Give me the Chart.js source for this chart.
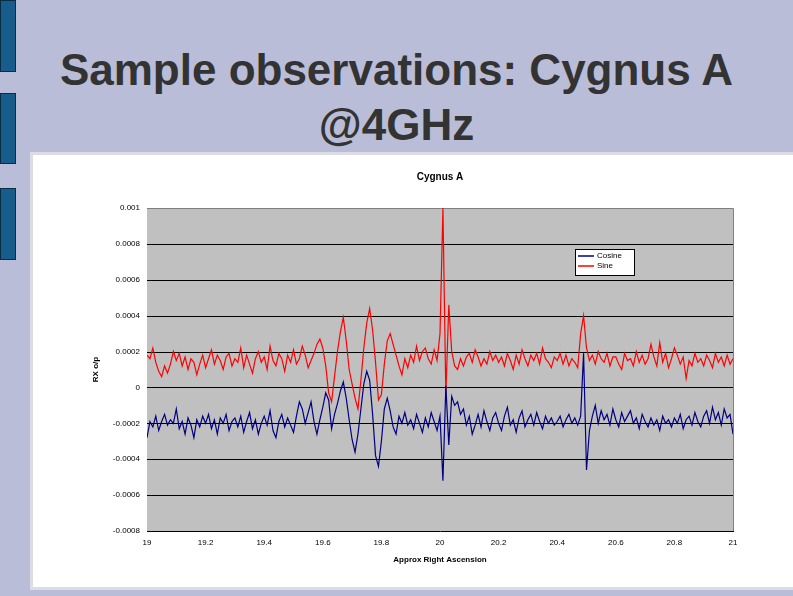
<!DOCTYPE html>
<html><head><meta charset="utf-8">
<script src="https://cdn.jsdelivr.net/npm/chart.js@4"></script>
<style>
body{margin:0;width:793px;height:596px;background:#b9bdd8;position:relative;overflow:hidden;font-family:"Liberation Sans",Arial,sans-serif}
.bar{position:absolute;left:0;width:14px;background:#165d8c;border:1px solid #0a2d45}
#title{position:absolute;left:0;width:793px;top:42px;text-align:center;font-size:44px;font-weight:bold;color:#333;line-height:55px}
#box{position:absolute;left:30px;top:152px;width:760px;height:432px;background:#fff;border:3px solid #dcdce4}
</style></head><body>
<div class="bar" style="top:0;height:70px"></div>
<div class="bar" style="top:93px;height:69px"></div>
<div class="bar" style="top:188px;height:70px"></div>
<div id="title">Sample observations: Cygnus A<br>@4GHz</div>
<div id="box"><canvas id="c" width="760" height="432"></canvas></div>
<script>
const seriesNames=["Cosine","Sine"];
const xStart=19, xStep=0.01;
const yTickLabels=["-0.0008","-0.0006","-0.0004","-0.0002","0","0.0002","0.0004","0.0006","0.0008","0.001"];
const xTickLabels=["19","19.2","19.4","19.6","19.8","20","20.2","20.4","20.6","20.8","21"];
// values in units of 1e-4
const sine=[
1.8,1.6,2.2,1.4,0.9,0.6,1.2,0.8,1.3,2.0,
1.5,1.9,1.2,1.7,1.0,1.6,1.4,0.7,1.3,1.8,
1.1,1.6,2.1,1.3,1.8,1.5,1.0,1.7,1.9,1.2,
1.6,1.4,2.2,1.1,1.8,1.3,0.8,1.6,2.0,1.4,
1.7,1.0,2.3,1.5,1.2,1.9,1.6,0.9,1.8,1.4,
2.1,1.3,1.6,2.3,1.8,1.1,1.5,1.9,2.4,2.7,
2.2,1.2,-0.3,-0.8,0.6,2.0,3.1,3.9,2.6,1.0,
0.2,-0.6,-1.2,0.4,2.2,3.6,4.4,3.2,1.4,-0.7,
-0.4,1.3,2.6,3.0,2.4,1.8,1.2,0.7,1.6,1.1,
1.8,1.4,2.3,1.5,2.0,2.2,1.6,1.3,2.1,1.5,
3.0,10.0,-0.4,4.6,2.0,1.2,1.0,1.6,1.2,1.7,
1.9,1.4,2.1,1.7,1.2,1.6,1.3,2.0,1.5,1.8,
1.4,1.7,1.2,1.9,1.5,1.0,1.8,1.3,2.1,1.6,
1.2,1.8,1.5,1.9,1.3,2.2,1.6,1.4,1.1,1.7,
1.5,1.9,1.3,1.8,1.2,1.6,1.4,1.1,3.0,4.0,
2.2,1.5,1.8,1.3,2.0,1.6,1.4,1.9,1.2,1.7,
1.7,1.3,1.0,1.9,1.5,1.6,1.2,2.0,1.4,1.8,
1.3,1.6,2.4,1.7,1.2,2.5,1.4,1.9,1.1,1.6,
2.2,1.8,1.3,1.7,0.5,1.5,1.2,1.9,1.4,1.6,
1.2,1.8,1.5,1.1,1.9,1.4,1.7,1.2,1.8,1.3,
1.6];
const cosine=[
-2.8,-1.9,-2.2,-1.6,-2.4,-1.9,-1.5,-2.1,-1.8,-2.0,
-1.2,-2.3,-1.9,-2.6,-1.7,-2.1,-2.8,-1.8,-2.2,-1.6,
-2.0,-1.5,-2.3,-1.8,-2.6,-1.7,-2.0,-1.5,-2.4,-1.9,
-1.7,-2.2,-1.6,-2.5,-1.9,-1.4,-2.3,-1.8,-2.6,-2.0,
-1.6,-2.1,-1.3,-2.4,-2.8,-1.9,-1.5,-2.2,-1.7,-2.1,
-2.5,-1.6,-0.8,-1.2,-2.0,-1.4,-0.8,-1.9,-2.6,-1.8,
-1.1,-0.3,-0.7,-2.3,-1.5,-0.9,-0.2,0.3,-0.6,-1.8,
-2.9,-3.6,-2.6,-1.2,0.2,0.9,0.4,-1.5,-3.8,-4.4,
-3.0,-1.2,-0.6,-1.3,-2.2,-2.6,-1.6,-2.0,-1.4,-2.1,
-1.8,-2.3,-1.5,-2.0,-2.5,-1.7,-2.2,-1.4,-1.9,-2.4,
-1.6,-5.2,0.1,-3.2,-0.5,-1.0,-0.8,-1.5,-1.2,-2.1,
-1.6,-2.6,-2.1,-1.5,-2.2,-1.3,-1.9,-2.4,-1.7,-1.4,
-2.0,-2.4,-1.6,-1.1,-2.1,-1.8,-2.5,-1.7,-1.3,-2.2,
-1.8,-1.5,-2.1,-1.4,-1.9,-2.3,-1.6,-2.0,-1.7,-2.1,
-1.9,-1.6,-2.2,-1.8,-1.5,-2.0,-1.7,-2.1,-1.6,1.9,
-4.6,-2.4,-1.6,-1.0,-2.0,-1.3,-1.8,-1.5,-2.1,-1.2,
-1.8,-2.2,-1.4,-1.9,-1.6,-1.3,-2.0,-1.7,-2.3,-1.5,
-1.9,-2.2,-1.7,-2.1,-1.8,-2.4,-1.6,-2.0,-1.8,-2.2,
-1.7,-2.0,-1.5,-2.3,-1.8,-1.6,-2.1,-1.4,-1.9,-2.2,
-1.6,-1.3,-2.0,-1.1,-1.8,-1.4,-2.1,-1.2,-1.7,-1.5,
-2.6];
const pts=a=>a.map((v,i)=>({x:xStart+i*xStep,y:v}));
const F='"Liberation Sans", Arial, sans-serif';
const deco={id:'deco',
 beforeDatasetsDraw(c){const a=c.chartArea,x=c.ctx;x.save();x.fillStyle='#c0c0c0';x.fillRect(a.left,a.top,a.right-a.left,a.bottom-a.top);
  const ys=c.scales.y;x.strokeStyle='#000';x.lineWidth=1;
  for(let v=-6;v<=8;v+=2){const py=Math.round(ys.getPixelForValue(v))+0.5;x.beginPath();x.moveTo(a.left,py);x.lineTo(a.right,py);x.stroke();}
  x.strokeStyle='#808080';x.beginPath();x.moveTo(a.left,a.top+0.5);x.lineTo(a.right+0.5,a.top+0.5);x.lineTo(a.right+0.5,a.bottom);x.stroke();
  x.restore();},
 afterDraw(c){const x=c.ctx;x.save();
  x.fillStyle='#000';x.font='bold 10px '+F;x.textAlign='center';x.fillText('Cygnus A',(c.chartArea.left+c.chartArea.right)/2,25);
  const lx=542,ly=94;x.fillStyle='#fff';x.fillRect(lx,ly,60,26);x.strokeStyle='#000';x.lineWidth=1;x.strokeRect(lx+0.5,ly+0.5,59,26);
  x.font='8px '+F;x.textAlign='left';x.textBaseline='middle';
  [['#000080',0],['#ff0000',1]].forEach(([col,i])=>{const yy=ly+7+i*10;x.strokeStyle=col;x.lineWidth=1.5;x.beginPath();x.moveTo(lx+3,yy);x.lineTo(lx+19,yy);x.stroke();x.fillStyle='#000';x.fillText(seriesNames[i],lx+22,yy);});
  x.restore();}};
new Chart(document.getElementById('c'),{type:'line',
 data:{datasets:[
  {label:seriesNames[0],data:pts(cosine),borderColor:'#000080',borderWidth:1.2,pointRadius:0,tension:0},
  {label:seriesNames[1],data:pts(sine),borderColor:'#ff0000',borderWidth:1.2,pointRadius:0,tension:0}]},
 options:{responsive:false,animation:false,devicePixelRatio:1,
  layout:{padding:{top:53,right:60,left:58,bottom:22}},
  plugins:{legend:{display:false},tooltip:{enabled:false}},
  scales:{
   x:{type:'linear',min:19,max:21,afterFit(s){s.height=34;},
    ticks:{stepSize:0.2,autoSkip:false,maxRotation:0,color:'#000',font:{family:F,size:8},callback:(v,i)=>xTickLabels[i]},
    grid:{display:false,drawTicks:true,tickLength:4,color:'#000'},border:{color:'#000'},
    title:{display:true,text:'Approx Right Ascension',color:'#000',font:{family:F,size:8,weight:'bold'},padding:{top:0,bottom:0}}},
   y:{min:-8,max:10,afterFit(s){s.width=56;},
    ticks:{stepSize:2,color:'#000',font:{family:F,size:8},callback:(v,i)=>yTickLabels[i]},
    grid:{display:false,drawTicks:true,tickLength:4,color:'#000'},border:{color:'#000'},
    title:{display:true,text:'RX o/p',color:'#000',font:{family:F,size:8,weight:'bold'},padding:{top:0,bottom:0}}}}},
 plugins:[deco]});
</script></body></html>
